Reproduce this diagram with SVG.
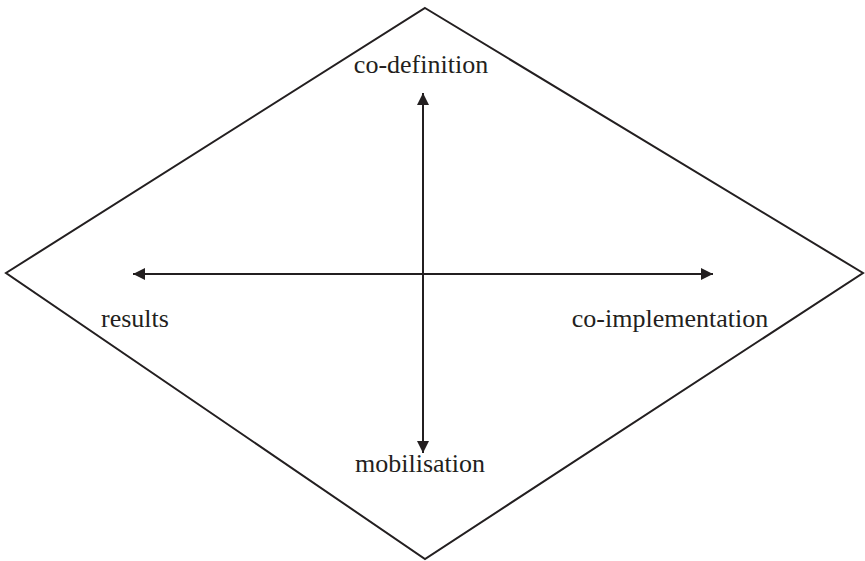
<svg xmlns="http://www.w3.org/2000/svg" width="865" height="561" viewBox="0 0 865 561">
<style>
.ln{stroke:#231f20;stroke-width:2;fill:none}
.lbl{font-family:"Liberation Serif","Times New Roman",serif;font-size:26px;fill:#231f20;text-anchor:middle}
</style>
<defs>
<marker id="ah" viewBox="0 0 12 12" refX="12" refY="6" markerWidth="12" markerHeight="12" markerUnits="userSpaceOnUse" orient="auto-start-reverse">
<path d="M0,0 L12,6 L0,12 Z" fill="#231f20"/>
</marker>
</defs>
<rect width="865" height="561" fill="#fff"/>
<g id="diamond">
<polygon class="ln" points="425,8 863,273 425,559 6,273"/>
</g>
<g id="connectors">
<line class="ln" x1="133" y1="274" x2="713" y2="274" marker-start="url(#ah)" marker-end="url(#ah)"/>
<line class="ln" x1="423" y1="93" x2="423" y2="453" marker-start="url(#ah)" marker-end="url(#ah)"/>
</g>
<g id="co-definition"><text class="lbl" x="421" y="73">co-definition</text></g>
<g id="results"><text class="lbl" x="135" y="327">results</text></g>
<g id="co-implementation"><text class="lbl" x="670" y="327">co-implementation</text></g>
<g id="mobilisation"><text class="lbl" x="420" y="472">mobilisation</text></g>
</svg>
